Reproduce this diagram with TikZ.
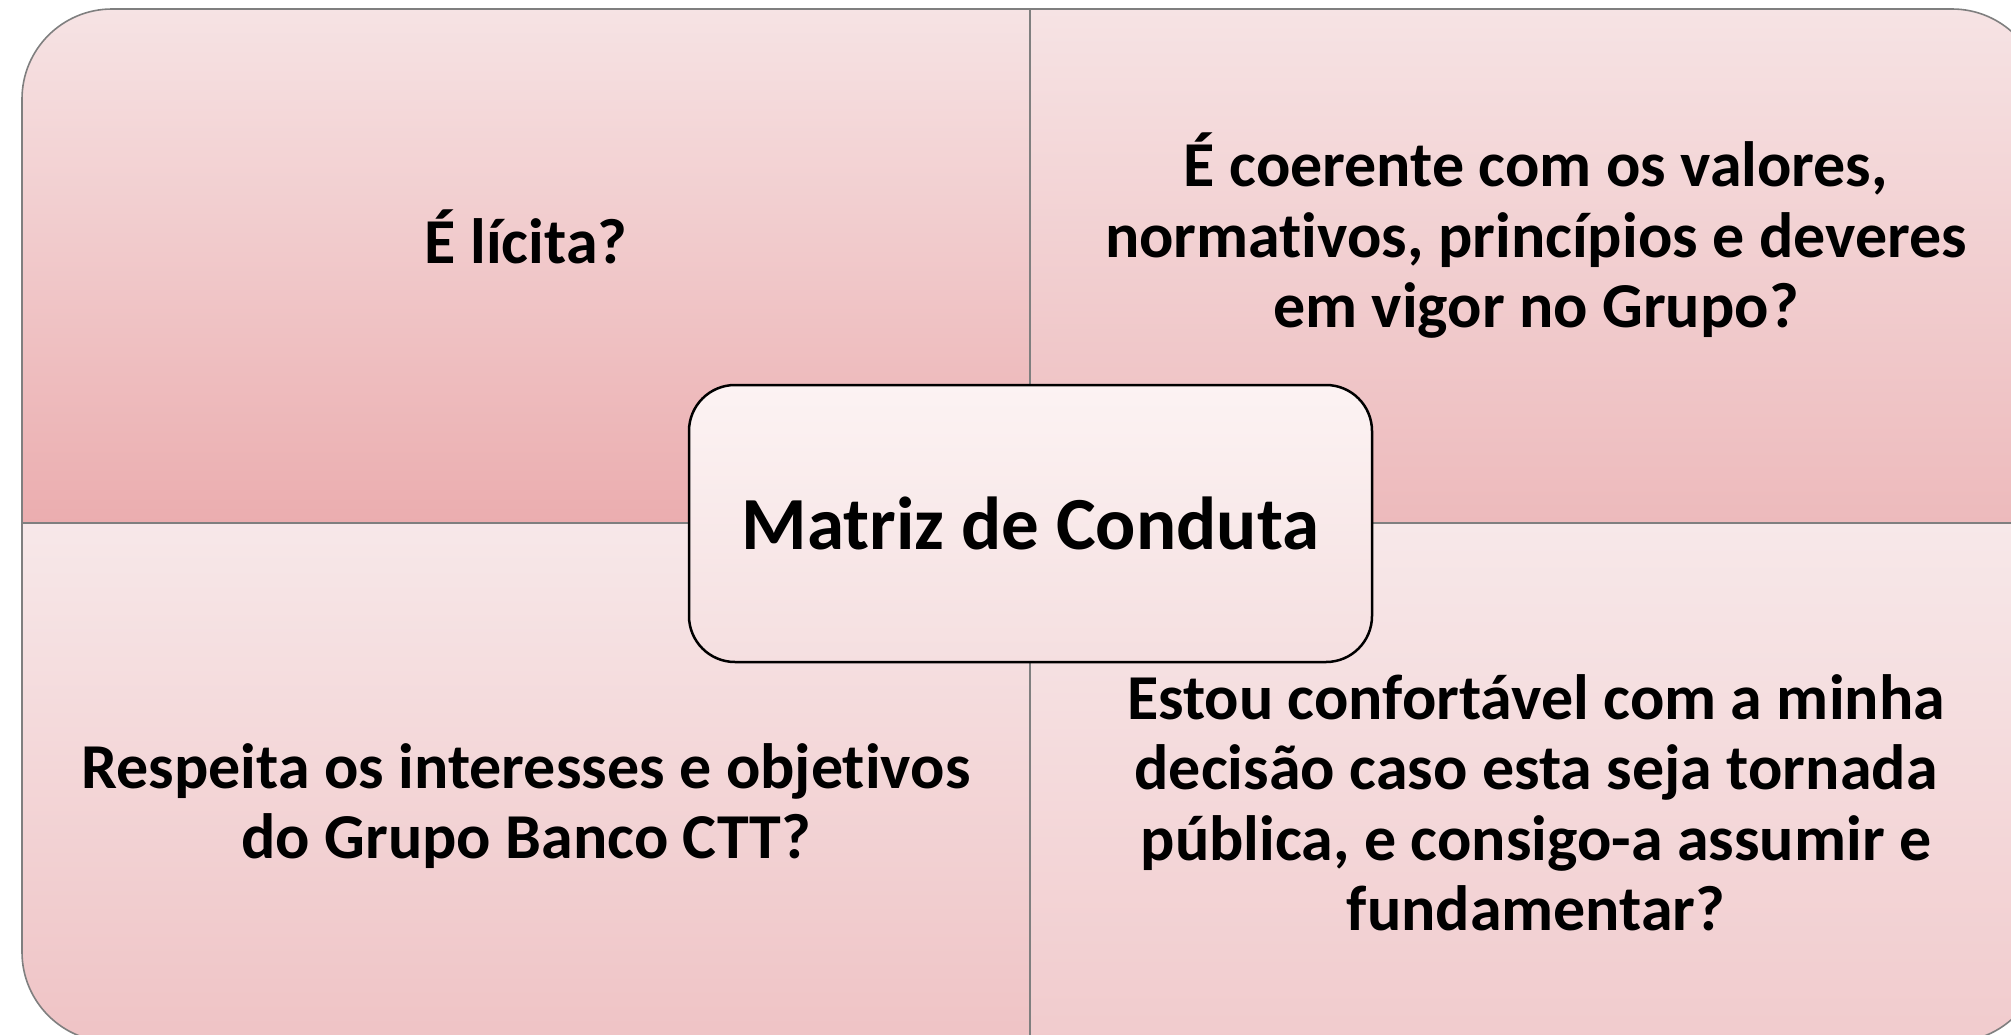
\documentclass[tikz,border=0pt]{standalone}
\usepackage{fontspec}
\setmainfont{Carlito}[Ligatures={NoCommon,NoRare}]
\definecolor{qtop}{HTML}{F6E3E4}
\definecolor{qbotA}{HTML}{EBADAF}
\definecolor{qbotB}{HTML}{EDBABC}
\definecolor{qtopL}{HTML}{F7E8E9}
\definecolor{qbotC}{HTML}{EFC3C5}
\definecolor{qbotD}{HTML}{F1CBCD}
\definecolor{ctop}{HTML}{FCF3F3}
\definecolor{cbot}{HTML}{F5DFE0}
\definecolor{qline}{HTML}{7F7F7F}
\tikzset{
  quad/.style={draw=qline, line width=1.6pt},
  qtext/.style={align=center, font=\fontsize{64}{70.5}\selectfont\bfseries, text=black, inner sep=0pt},
  centerbox/.style={draw=black, line width=2.5pt, rounded corners=46pt, minimum width=683pt, minimum height=277pt,
    top color=ctop, bottom color=cbot, font=\fontsize{75}{90}\selectfont\bfseries, inner sep=0pt}
}
\begin{document}
\begin{tikzpicture}[x=1pt,y=-1pt]
\clip (0,0) rectangle (2011,1034);
% top-left
\shade[quad, top color=qtop, bottom color=qbotA]
  (1030,9) -- (112,9) .. controls (62.3,9) and (22,49.3) .. (22,99) -- (22,523) -- (1030,523) -- cycle;
% top-right
\shade[quad, top color=qtop, bottom color=qbotB]
  (1030,9) -- (1952,9) .. controls (2001.7,9) and (2042,49.3) .. (2042,99) -- (2042,523) -- (1030,523) -- cycle;
% bottom-left
\shade[quad, top color=qtopL, bottom color=qbotC]
  (1030,523) -- (22,523) -- (22,952) .. controls (22,1001.7) and (62.3,1042) .. (112,1042) -- (1030,1042) -- cycle;
% bottom-right
\shade[quad, top color=qtopL, bottom color=qbotD]
  (1030,523) -- (2042,523) -- (2042,952) .. controls (2042,1001.7) and (2001.7,1042) .. (1952,1042) -- (1030,1042) -- cycle;

\node[qtext] (tl) at (526,237) {É lícita?};
\node[qtext] (tr) at (1536,236) {É coerente com os valores,\\normativos, princípios e deveres\\em vigor no Grupo?};
\node[qtext] (bl) at (526,806) {Respeita os interesses e objetivos\\do Grupo Banco CTT?};
\node[qtext] (br) at (1536,803) {Estou confortável com a minha\\decisão caso esta seja tornada\\pública, e consigo-a assumir e\\fundamentar?};

\node[centerbox] (c) at (1030.5,523.5) {Matriz de Conduta};
\end{tikzpicture}
\end{document}
